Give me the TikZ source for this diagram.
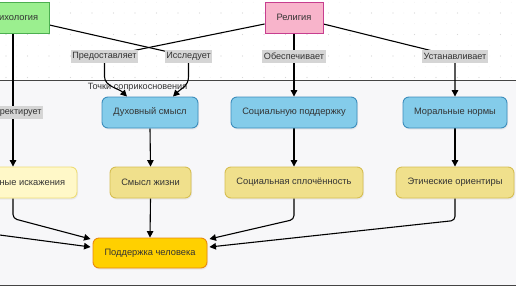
\documentclass[tikz,border=0pt]{standalone}
\usepackage{fontspec}
\setmainfont{Liberation Sans}
\usetikzlibrary{arrows.meta,shadows}
\definecolor{txt}{HTML}{333333}
\definecolor{psyfill}{HTML}{9BEF8F}
\definecolor{psydraw}{HTML}{4CAF50}
\definecolor{relfill}{HTML}{F8B4CB}
\definecolor{reldraw}{HTML}{C73E8F}
\definecolor{bluefill}{HTML}{84CCEA}
\definecolor{bluedraw}{HTML}{3C8DBC}
\definecolor{yelfill}{HTML}{F0E08C}
\definecolor{yeldraw}{HTML}{D6BE52}
\definecolor{lyelfill}{HTML}{FFF8C8}
\definecolor{lyeldraw}{HTML}{EEDD77}
\definecolor{podfill}{HTML}{FFD000}
\definecolor{poddraw}{HTML}{E8890C}
\definecolor{lblfill}{HTML}{D5D5D5}
\definecolor{contfill}{HTML}{F7F7F9}
\definecolor{contdraw}{HTML}{444444}
\definecolor{dotc}{HTML}{D8D8D8}
\pgfdeclarelayer{back}
\pgfdeclarelayer{edges}
\pgfsetlayers{back,edges,main}
\begin{document}
\begin{tikzpicture}[x=1pt,y=-1pt,
  base/.style={draw, line width=0.9pt, minimum height=31pt, inner sep=0pt, text=txt,
    font=\fontsize{9.3}{11}\selectfont},
  topbox/.style={base},
  rbox/.style={base, rounded corners=6pt,
    drop shadow={shadow xshift=1pt, shadow yshift=-1.5pt, opacity=0.12}},
  bluebox/.style={rbox, fill=bluefill, draw=bluedraw},
  yelbox/.style={rbox, fill=yelfill, draw=yeldraw},
  lbl/.style={fill=lblfill, text=txt, inner xsep=1.5pt, inner ysep=0pt,
    minimum height=13pt, font=\fontsize{9.1}{11}\selectfont},
  conn/.style={line width=1.1pt, draw=black},
  arr/.style={conn, -{Triangle[length=6.5pt,width=6.5pt]}},
]
\useasboundingbox (0,0) rectangle (516,290);
\begin{pgfonlayer}{back}
  \fill[white] (0,0) rectangle (516,290);
  \foreach \i in {0,...,48} {
    \foreach \j in {0,...,13} {
      \fill[dotc!45] ({-4.75+10.75*\i},{2.25+10.75*\j}) circle (0.45pt);
    }
  }
  \foreach \i in {0,...,24} {
    \foreach \j in {0,...,13} {
      \fill[dotc] ({6+21.5*\i},{13+21.5*\j}) circle (0.7pt);
    }
  }
  \filldraw[fill=contfill, draw=contdraw, line width=1pt] (-10,80) rectangle (526,285);
  \node[text=txt, font=\fontsize{9.1}{11}\selectfont] (ttl) at (137.5,87.5) {Точки соприкосновения};
\end{pgfonlayer}

% top nodes
\node[topbox, fill=psyfill, draw=psydraw, minimum width=72pt] (psy) at (13,17.5) {Психология};
\node[topbox, fill=relfill, draw=reldraw, minimum width=58pt] (rel) at (294,17.5) {Религия};

% middle row
\node[bluebox, minimum width=96pt] (dux) at (150,112.5) {Духовный смысл};
\node[bluebox, minimum width=126pt] (soc) at (294,112.5) {Социальную поддержку};
\node[bluebox, minimum width=104pt] (mor) at (455,112.5) {Моральные нормы};

% lower row
\node[rbox, fill=lyelfill, draw=lyeldraw, minimum width=128pt] (kog) at (13,182.5) {Когнитивные искажения};
\node[yelbox, minimum width=81pt] (smy) at (150.5,182.5) {Смысл жизни};
\node[yelbox, minimum width=138pt] (spl) at (294,182.5) {Социальная сплочённость};
\node[yelbox, minimum width=118pt] (eti) at (455,182.5) {Этические ориентиры};

% bottom
\node[rbox, fill=podfill, draw=poddraw, minimum width=114pt, minimum height=30pt] (pod) at (150,253) {Поддержка человека};

% edge labels
\node[lbl] (lpred) at (104.5,56.5) {Предоставляет};
\node[lbl] (liss) at (188.5,56.5) {Исследует};
\node[lbl] (lobe) at (294,56.5) {Обеспечивает};
\node[lbl] (lust) at (455,56.5) {Устанавливает};
\node[lbl] (lkor) at (13,112.5) {Корректирует};

\coordinate (offl) at (-20,232.4);

\begin{pgfonlayer}{edges}
  \draw[arr] ([yshift=-7.5pt]psy.east) -- (liss.center) -- ++(0,20)
     .. controls +(0,10) and +(8,-8) .. ([xshift=23pt]dux.north);
  \draw[arr] ([yshift=-6.5pt]rel.west) -- (lpred.center) -- ++(0,20)
     .. controls +(0,10) and +(-8,-8) .. ([xshift=-23pt]dux.north);
  \draw[arr] (rel.south) -- (lobe.center) -- (soc.north);
  \draw[arr] ([yshift=-6.5pt]rel.east) -- (lust.center) -- (mor.north);
  \draw[arr] (psy.south) -- (lkor.center) -- (kog.north);
  \draw[arr] (dux.south) -- (smy.north);
  \draw[arr] (soc.south) -- (spl.north);
  \draw[arr] (mor.south) -- (eti.north);
  \draw[arr] (smy.south) -- (pod.north);
  \draw[arr, rounded corners=4pt] (kog.south) -- ++(0,20) -- ([xshift=-2pt,yshift=14pt]pod.west);
  \draw[arr] (offl) -- ([xshift=-2pt,yshift=6pt]pod.west);
  \draw[arr, rounded corners=4pt] (spl.south) -- ++(0,21) -- ([xshift=2pt,yshift=14pt]pod.east);
  \draw[arr, rounded corners=4pt] (eti.south) -- ++(0,22) -- ([xshift=2pt,yshift=6pt]pod.east);
\end{pgfonlayer}
\end{tikzpicture}
\end{document}
